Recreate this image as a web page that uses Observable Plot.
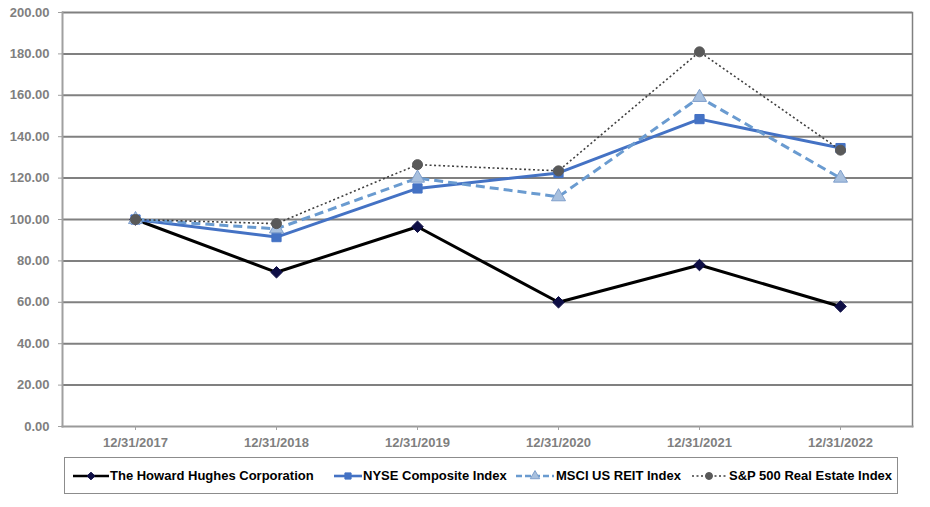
<!DOCTYPE html>
<html>
<head>
<meta charset="utf-8">
<script src="https://cdn.jsdelivr.net/npm/d3@7"></script>
<script src="https://cdn.jsdelivr.net/npm/@observablehq/plot@0.6"></script>
<style>
  body { margin: 0; background: #fff; font-family: Arial, "Liberation Sans", sans-serif; }
  #chart { position: relative; width: 930px; height: 507px; }
  #legend { position: absolute; left: 64px; top: 457px; width: 834px; height: 37px; border: 1px solid #8c8c8c;
            box-sizing: border-box; font-weight: bold; font-size: 13px; color: #000; white-space: nowrap; }
  .sw { position: absolute; top: 11px; }
  .lt { position: absolute; top: 10px; line-height: 15px; }
</style>
</head>
<body>
<div id="chart"></div>
<div id="err" style="color:red;font-size:12px"></div>
<script>
const dates = ["12/31/2017", "12/31/2018", "12/31/2019", "12/31/2020", "12/31/2021", "12/31/2022"];
const hhc   = [100, 74.5, 96.5, 60.0, 78.0, 58.0];
const nyse  = [100, 91.5, 115.0, 122.5, 148.5, 134.5];
const msci  = [100, 95.5, 120.0, 111.0, 159.0, 120.0];
const spre  = [100, 98.0, 126.5, 123.5, 181.0, 133.5];
const yTicks = [0, 20, 40, 60, 80, 100, 120, 140, 160, 180, 200];

const seriesNames = ["The Howard Hughes Corporation", "NYSE Composite Index", "MSCI US REIT Index", "S&P 500 Real Estate Index"];
const seriesValues = [hhc, nyse, msci, spre];
const styles = [
  {stroke: "#000000", width: 3, dash: null, symbol: "diamond2", r: 5.2, fill: "#0e0e45", mstroke: "#0e0e45"},
  {stroke: "#4472c4", width: 3, dash: null, symbol: "square", r: 5.2, fill: "#4472c4", mstroke: "#4472c4"},
  {stroke: "#6a9bd0", width: 3, dash: "9,5", symbol: "triangle", r: 5.2, fill: "#a8c0de", mstroke: "#7f9fcc"},
  {stroke: "#404040", width: 1.6, dash: "2,2.5", symbol: "circle", r: 5, fill: "#595959", mstroke: "#595959"}
];

try {
const marks = [];
marks.push(Plot.ruleY(yTicks.filter(d => d > 0), {stroke: "#808080", strokeWidth: 2}));
marks.push(Plot.frame({anchor: "right", stroke: "#808080", strokeWidth: 1.5}));
marks.push(Plot.frame({anchor: "bottom", stroke: "#9a9a9a", strokeWidth: 2}));
marks.push(Plot.frame({anchor: "left", stroke: "#a0a0a0", strokeWidth: 2}));
marks.push(Plot.axisY({ticks: yTicks, tickFormat: d => d.toFixed(2), tickSize: 4, tickPadding: 9, stroke: "#a0a0a0",
  fill: "#7f7f7f", fontSize: 13, fontWeight: "bold", label: null}));
marks.push(Plot.axisX({tickSize: 4, tickPadding: 7, stroke: "#a0a0a0", fill: "#7f7f7f", fontSize: 13, fontWeight: "bold", label: null}));

seriesNames.forEach((name, i) => {
  const data = dates.map((d, j) => ({date: d, value: seriesValues[i][j], series: name}));
  const s = styles[i];
  marks.push(Plot.line(data, {x: "date", y: "value", stroke: s.stroke, strokeWidth: s.width,
    strokeDasharray: s.dash, strokeLinejoin: "miter", strokeLinecap: "butt"}));
  marks.push(Plot.dot(data, {x: "date", y: "value", symbol: () => s.symbol, r: s.r, fill: s.fill, stroke: s.mstroke, strokeWidth: 1}));
});

const chart = Plot.plot({
  width: 930,
  height: 450,
  marginLeft: 62,
  marginRight: 18,
  marginTop: 12,
  marginBottom: 24,
  style: {fontFamily: "Arial, 'Liberation Sans', sans-serif", background: "#fff"},
  x: {type: "point", domain: dates, padding: 0.5},
  y: {domain: [0, 200]},
  symbol: {type: "identity"},
  marks
});
document.getElementById("chart").appendChild(chart);
} catch (e) { document.getElementById("err").textContent += "plot: " + e; }

try {
const legend = document.createElement("div");
legend.id = "legend";
// swatch [left, width] and text left, relative to legend box
const swatchPos = [[8, 36], [269, 28], [451, 38], [627, 34]];
const textPos = [45, 298, 491, 664];
const ns = "http://www.w3.org/2000/svg";
const symMap = {diamond2: d3.symbolDiamond2, square: d3.symbolSquare, triangle: d3.symbolTriangle, circle: d3.symbolCircle};
seriesNames.forEach((name, i) => {
  const s = styles[i];
  const [left, w] = swatchPos[i];
  const svg = document.createElementNS(ns, "svg");
  svg.setAttribute("class", "sw");
  svg.style.left = left + "px";
  svg.setAttribute("width", w); svg.setAttribute("height", 14);
  const line = document.createElementNS(ns, "line");
  line.setAttribute("x1", 0); line.setAttribute("x2", w); line.setAttribute("y1", 7); line.setAttribute("y2", 7);
  line.setAttribute("stroke", s.stroke); line.setAttribute("stroke-width", Math.min(s.width, 2.6));
  if (s.dash) line.setAttribute("stroke-dasharray", i === 2 ? "6,3" : s.dash);
  svg.appendChild(line);
  const path = document.createElementNS(ns, "path");
  path.setAttribute("transform", `translate(${w/2},7)`);
  path.setAttribute("d", d3.symbol().type(symMap[s.symbol]).size(Math.PI * 4.5 * 4.5 * 0.6)());
  path.setAttribute("fill", s.fill); path.setAttribute("stroke", s.mstroke);
  svg.appendChild(path);
  legend.appendChild(svg);
  const t = document.createElement("span");
  t.className = "lt";
  t.style.left = textPos[i] + "px";
  t.textContent = name;
  legend.appendChild(t);
});
document.getElementById("chart").appendChild(legend);
} catch (e) { document.getElementById("err").textContent += " legend: " + e; }
</script>
</body>
</html>
